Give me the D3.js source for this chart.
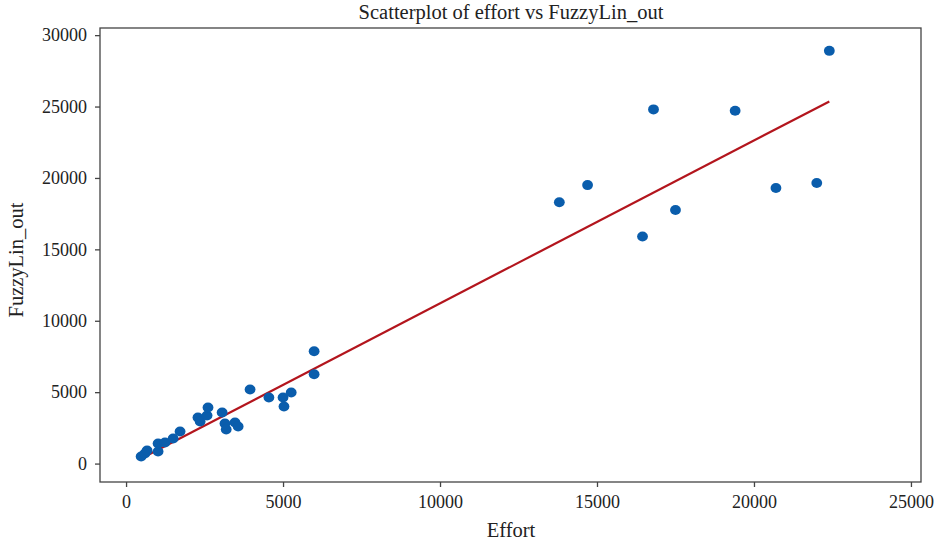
<!DOCTYPE html>
<html lang="en">
<head>
    <meta charset="UTF-8">
    <title>Scatterplot of effort vs FuzzyLin_out</title>
    <script src="https://d3js.org/d3.v7.min.js"></script>
    <style>
        body { margin: 0; background: #fff; }
        text { font-family: 'Liberation Serif', 'DejaVu Serif', serif; fill: #222; }
    </style>
</head>
<body>
<script>
    const effort = [480, 600, 670, 1020, 1020, 1240, 1500, 1720, 2290, 2360, 2580, 2610,
                    3060, 3150, 3190, 3470, 3570, 3950, 4550, 5000, 5030, 5260, 5990, 5990,
                    13800, 14700, 16450, 16800, 17500, 19400, 20700, 22000, 22400];
    const fuzzyLin = [490, 700, 910, 840, 1400, 1470, 1750, 2250, 3230, 2950, 3370, 3930,
                      3580, 2810, 2390, 2880, 2600, 5190, 4630, 4630, 4000, 4980, 6250, 7860,
                      18300, 19500, 15900, 24800, 17750, 24700, 19300, 19650, 28900];
    // fitted line ends
    const fitX = [480, 22400];
    const fitY = [356, 25360];
    const xTicks = [0, 5000, 10000, 15000, 20000, 25000];
    const yTicks = [0, 5000, 10000, 15000, 20000, 25000, 30000];

    const width = 937, height = 544;
    const plotL = 100, plotR = 921, plotT = 28, plotB = 482;

    const svg = d3.select("body").append("svg")
        .attr("width", width).attr("height", height);

    const x = d3.scaleLinear().domain([-830, 25320]).range([plotL, plotR]);
    const y = d3.scaleLinear().domain([-1290, 30500]).range([plotB, plotT]);

    // frame
    svg.append("rect")
        .attr("x", plotL).attr("y", plotT)
        .attr("width", plotR - plotL).attr("height", plotB - plotT)
        .attr("fill", "none").attr("stroke", "#444").attr("stroke-width", 1.3);

    const xAxis = svg.append("g")
        .attr("transform", `translate(0,${plotB})`)
        .call(d3.axisBottom(x).tickValues(xTicks).tickFormat(d3.format("d"))
            .tickSize(5).tickSizeOuter(0).tickPadding(8));
    const yAxis = svg.append("g")
        .attr("transform", `translate(${plotL},0)`)
        .call(d3.axisLeft(y).tickValues(yTicks).tickFormat(d3.format("d"))
            .tickSize(5).tickSizeOuter(0).tickPadding(8));

    [xAxis, yAxis].forEach(a => {
        a.select(".domain").remove();
        a.selectAll(".tick line").attr("stroke", "#444").attr("stroke-width", 1.3);
        a.selectAll(".tick text")
            .style("font-family", "'Liberation Serif', serif")
            .style("font-size", "18px").attr("fill", "#222");
    });

    // fit line
    const line = d3.line().x(d => x(d[0])).y(d => y(d[1]));
    svg.append("path")
        .datum(d3.zip(fitX, fitY))
        .attr("d", line)
        .attr("fill", "none")
        .attr("stroke", "#b3151d")
        .attr("stroke-width", 2.2);

    svg.append("g").selectAll("ellipse")
        .data(d3.zip(effort, fuzzyLin)).join("ellipse")
        .attr("cx", d => x(d[0]))
        .attr("cy", d => y(d[1]))
        .attr("rx", 5.4)
        .attr("ry", 5)
        .attr("fill", "#0a5dac");

    svg.append("text")
        .attr("x", 511).attr("y", 19)
        .attr("text-anchor", "middle")
        .style("font-size", "20.5px")
        .text("Scatterplot of effort vs FuzzyLin_out");

    svg.append("text")
        .attr("x", 511).attr("y", 537)
        .attr("text-anchor", "middle")
        .style("font-size", "20.5px")
        .text("Effort");

    svg.append("text")
        .attr("transform", "translate(23,260) rotate(-90)")
        .attr("text-anchor", "middle")
        .style("font-size", "20.5px")
        .text("FuzzyLin_out");
</script>
</body>
</html>
